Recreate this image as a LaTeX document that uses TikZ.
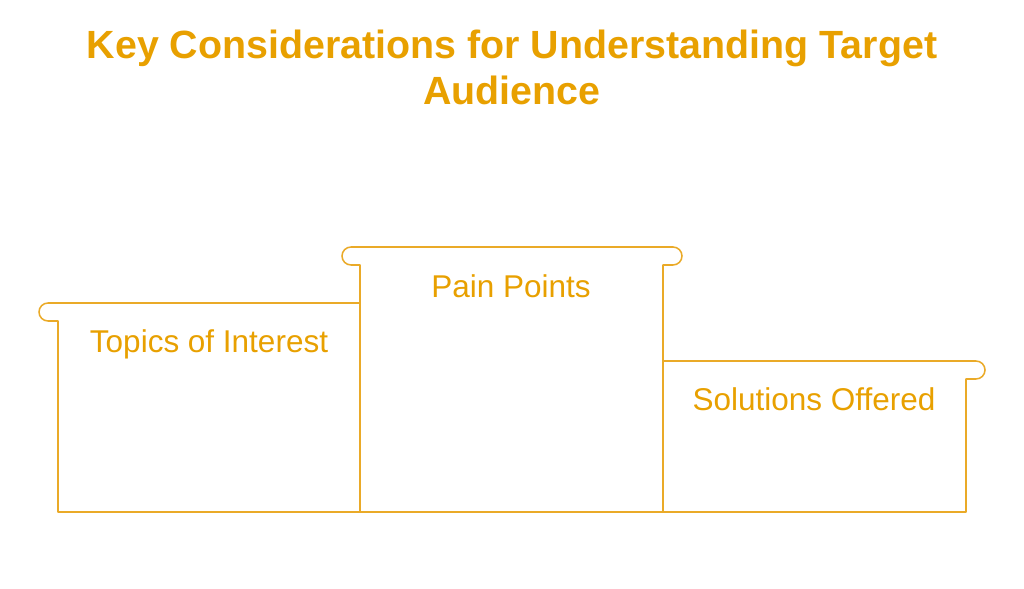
\documentclass[tikz,border=0pt]{standalone}
\usepackage{fontspec}
\setmainfont{Liberation Sans}
\usepackage{xcolor}
\usepackage{tikz}
\usetikzlibrary{positioning}
\definecolor{podiumgold}{RGB}{232,160,0}
\definecolor{podiumline}{RGB}{234,170,40}

\begin{document}
\begin{tikzpicture}[
  x=0.025cm, y=0.025cm,
  every node/.style={text=podiumgold},
  titletext/.style={font=\fontsize{28}{32.7}\selectfont\bfseries, align=center},
  steplabel/.style={font=\fontsize{22.4}{26}\selectfont},
  podium/.style={draw=podiumline, line width=1.1pt, line join=round},
]
  \useasboundingbox (0,0) rectangle (1024,589);

  % Title
  \node[titletext] (title) at (512,522)
      {Key Considerations for Understanding Target\\Audience};

  % Left step
  \draw[podium] (360,286) -- (48,286) arc[start angle=90, end angle=270, radius=9]
      -- (58,268) -- (58,77) -- (360,77);
  % Middle step
  \draw[podium] (360,77) -- (360,324) -- (351,324)
      arc[start angle=270, end angle=90, radius=9] -- (673,342)
      arc[start angle=90, end angle=-90, radius=9] -- (663,324) -- (663,77);
  % Right step
  \draw[podium] (663,228) -- (976,228) arc[start angle=90, end angle=-90, radius=9]
      -- (966,210) -- (966,77) -- (360,77);

  % Step labels
  \node[steplabel] (topics) at (209,245) {Topics of Interest};
  \node[steplabel] (pain) at (511,303) {Pain Points};
  \node[steplabel] (solutions) at (814,190) {Solutions Offered};
\end{tikzpicture}
\end{document}
